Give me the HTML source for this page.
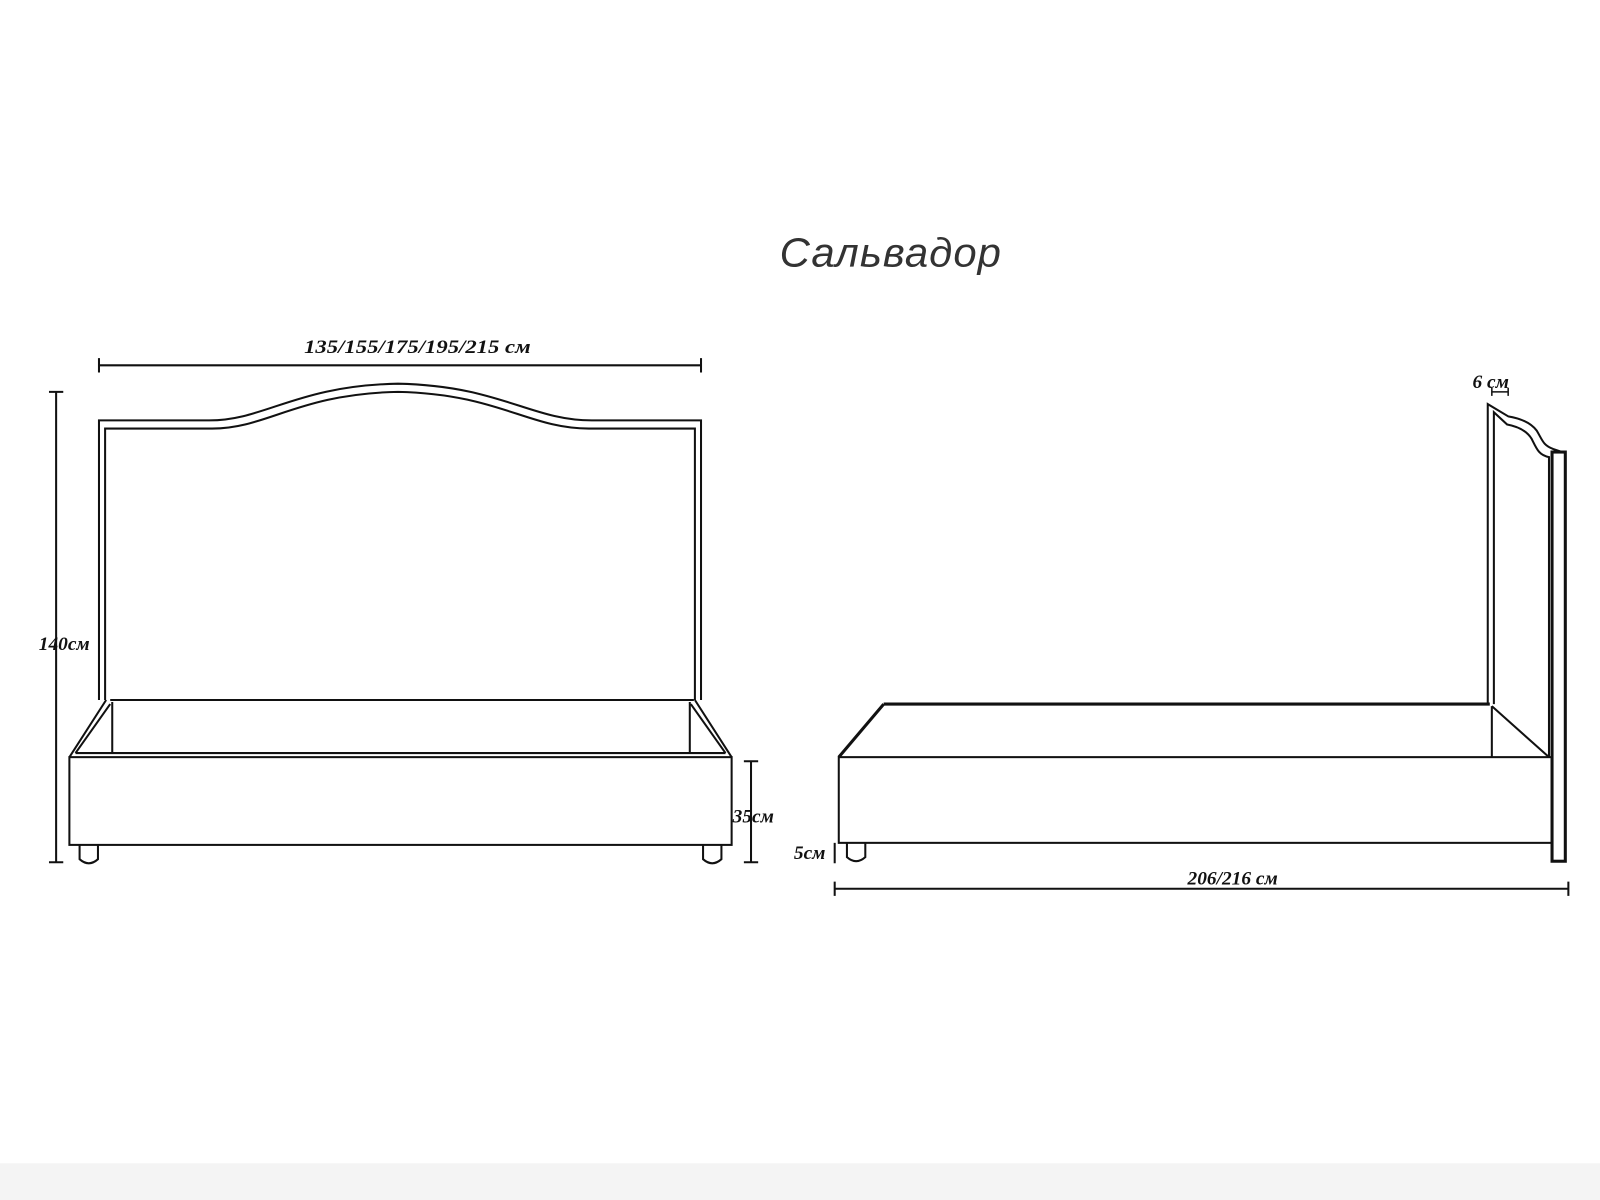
<!DOCTYPE html>
<html><head><meta charset="utf-8"><style>html,body{margin:0;padding:0;background:#fff}svg{display:block}</style></head>
<body>
<svg width="1600" height="1200" viewBox="0 0 1568 1176" preserveAspectRatio="none" xmlns="http://www.w3.org/2000/svg">
<rect width="1568" height="1176" fill="#fff"/>
<rect y="1140" width="1568" height="36" fill="#f4f4f4"/>
<text x="873" y="261" font-family="'Liberation Sans',sans-serif" font-style="italic" font-size="40" text-anchor="middle" fill="#333" letter-spacing="1" textLength="218" lengthAdjust="spacingAndGlyphs">Сальвадор</text>
<g fill="none" stroke="#111" stroke-width="2">
<path d="M97,686 V412 H205 C260,412 290,378 390,376 C490,378 520,412 580,412 H687 V686"/>
<path d="M103,686 V420 H208 C262,420 292,386 390,384 C488,386 518,420 577,420 H681 V686"/>
<path d="M108,686 H680"/>
<path d="M68,742 L104,686 M74,738 L108,690 M717,742 L681,686 M711,738 L677,690"/>
<path d="M110,688 V738 M676,688 V738"/>
<path d="M74,738 H711"/>
<rect x="68" y="742" width="649" height="86"/>
<path d="M78,828 V842 Q87,850 96,842 V828 M689,828 V842 Q698,850 707,842 V828"/>
<path d="M97,358 H687 M97,351 V365 M687,351 V365"/>
<path d="M55,384 V845 M48,384 H62 M48,845 H62"/>
<path d="M736,746 V845 M729,746 H743 M729,845 H743"/>
<rect x="822" y="742" width="699" height="84"/>
<path d="M866,690 H1460" stroke-width="3"/>
<path d="M822,742 L866,690" stroke-width="3"/>
<path d="M1462,692 L1518,742 M1462,692 V742"/>
<path d="M830,826 V840 Q839,848 848,840 V826"/>
<path d="M1458,690 V396 L1478,408 C1490,410 1500,414 1506,422 C1512,432 1512,436 1522,440 L1534,444"/>
<path d="M1464,690 V404 L1477,416 C1488,418 1496,422 1501,430 C1506,440 1508,446 1518,448 V742"/>
<rect x="1521" y="443" width="13" height="401" stroke-width="3"/>
<path d="M818,826 V846"/>
<path d="M818,871 H1537 M818,864 V878 M1537,864 V878"/>
<path d="M1462,384 H1478 M1462,380 V388 M1478,380 V388" stroke-width="1.5"/>
</g>
<g font-family="'Liberation Serif',serif" font-style="italic" font-weight="bold" font-size="19" fill="#111">
<text x="409" y="346" text-anchor="middle" textLength="222" lengthAdjust="spacingAndGlyphs">135/155/175/195/215 см</text>
<text x="38" y="637">140см</text>
<text x="718" y="806">35см</text>
<text x="778" y="842">5см</text>
<text x="1208" y="867" text-anchor="middle">206/216 см</text>
<text x="1443" y="380">6 см</text>
</g>
</svg>
</body></html>
